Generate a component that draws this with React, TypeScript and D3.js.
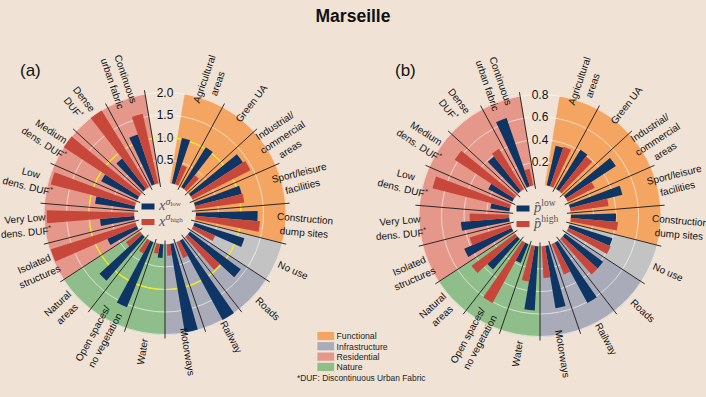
import React, { useEffect, useRef } from 'react';
import { select, scaleBand, scaleLinear, arc } from 'd3';

const categories: string[] = [
  'Agricultural\nareas', 'Green UA', 'Industrial/\ncommercial\nareas', 'Sport/leisure\nfacilities', 'Construction\ndump sites',
  'No use', 'Roads', 'Railway', 'Motorways',
  'Water', 'Open spaces/\nno vegetation', 'Natural\nareas',
  'Isolated\nstructures', 'Very Low\ndens. DUF*', 'Low\ndens. DUF*', 'Medium\ndens. DUF*', 'Dense\nDUF*', 'Continuous\nurban fabric',
];
const categoryGroups: string[] = [
  'Functional', 'Functional', 'Functional', 'Functional', 'Functional',
  'Infrastructure', 'Infrastructure', 'Infrastructure', 'Infrastructure',
  'Nature', 'Nature', 'Nature',
  'Residential', 'Residential', 'Residential', 'Residential', 'Residential', 'Residential',
];
const groupNames = ['Functional', 'Infrastructure', 'Residential', 'Nature'];

// (a) x^sigma, low / high
const xLow = [1.03, 1.04, 1.38, 1.07, 1.37, 1.16, 1.40, 2.0, 1.99, 0.30, 1.56, 1.29, 0.71, 0.76, 0.88, 0.90, 0.86, 1.17];
const xHigh = [0.45, 0.39, 1.44, 1.09, 1.43, 0.53, 0.97, 0.38, 0.25, 0.22, 0.32, 0.39, 1.97, 1.94, 1.93, 2.0, 2.0, 1.58];
const xTicks = [0.5, 1.0, 1.5, 2.0];

// (b) p-hat, low / high
const pLow = [0.36, 0.41, 0.53, 0.48, 0.40, 0.40, 0.42, 0.61, 0.56, 0.57, 0.18, 0.36, 0.46, 0.43, 0.17, 0.24, 0.39, 0.64];
const pHigh = [0.37, 0.39, 0.27, 0.34, 0.42, 0.41, 0.42, 0.29, 0.28, 0.32, 0.61, 0.48, 0.38, 0.35, 0.71, 0.63, 0.42, 0.15];
const pTicks = [0.2, 0.4, 0.6, 0.8];

const W = 706, H = 397;
const BG = '#f0e2d5';
const BLUE = '#0e3563';
const RED = '#c8473b';
const groupColor: Record<string, string> = {
  Functional: '#f3a561', Infrastructure: '#aaabb8', Residential: '#e5978a', Nature: '#8fbe8b',
};
const R0 = 31, R1 = 121;
const font = "'Liberation Sans', Arial, Helvetica, sans-serif";
const mathFont = "'Liberation Serif', 'DejaVu Serif', serif";

const drawPolar = (svg: any, o: any) => {
  const g = svg.append('g').attr('transform', `translate(${o.cx},${o.cy})`);
  const slots = ['', ...categories];
  const half = Math.PI / slots.length;
  const angle = scaleBand<string>().domain(slots).range([-half, 2 * Math.PI - half]);
  const bw = angle.bandwidth();
  const sub = scaleBand<string>().domain(['low', 'high']).range([0, bw]).paddingInner(0).paddingOuter(0.5);
  const radius = scaleLinear().domain([0, o.max]).range([R0, R1]);
  const arcGen = arc<any>();

  // sector backgrounds
  categories.forEach((c, i) => {
    const col = c === 'No use' ? '#c3c3c3' : groupColor[categoryGroups[i]];
    g.append('path')
      .attr('d', arcGen({ innerRadius: R0, outerRadius: R1, startAngle: angle(c)!, endAngle: angle(c)! + bw }))
      .attr('fill', col).attr('stroke', col).attr('stroke-width', 0.6);
  });

  // grid circles
  o.ticks.forEach((t: number) => {
    g.append('circle').attr('r', radius(t)).attr('fill', 'none')
      .attr('stroke', '#ffffff').attr('stroke-opacity', 0.75).attr('stroke-width', 0.8);
  });
  if (o.ring !== undefined) {
    g.append('circle').attr('r', radius(o.ring)).attr('fill', 'none')
      .attr('stroke', '#f2ec12').attr('stroke-width', 1.2);
  }

  // bars
  categories.forEach((c, i) => {
    [['low', o.low[i], BLUE], ['high', o.high[i], RED]].forEach(([k, v, col]: any) => {
      const a0 = angle(c)! + sub(k)!;
      g.append('path')
        .attr('d', arcGen({ innerRadius: R0, outerRadius: radius(v), startAngle: a0, endAngle: a0 + sub.bandwidth() }))
        .attr('fill', col);
    });
  });

  // separator lines at the end of each category
  categories.forEach((c) => {
    const a = angle(c)! + bw;
    g.append('line')
      .attr('x1', 27 * Math.sin(a)).attr('y1', -27 * Math.cos(a))
      .attr('x2', 125 * Math.sin(a)).attr('y2', -125 * Math.cos(a))
      .attr('stroke', '#1a1a1a').attr('stroke-width', 0.9);
  });

  // radial tick labels
  o.ticks.forEach((t: number) => {
    g.append('text').attr('x', 0).attr('y', -radius(t))
      .attr('text-anchor', 'middle').attr('dominant-baseline', 'central')
      .attr('font-family', font).attr('font-size', 12).attr('fill', '#111')
      .text(o.fmt(t));
  });

  // category labels
  categories.forEach((c) => {
    const a = angle(c)! + bw / 2;
    const deg = (a * 180) / Math.PI;
    const rot = deg <= 180 ? deg - 90 : deg - 270;
    const lg = g.append('g')
      .attr('transform', `translate(${140 * Math.sin(a)},${-140 * Math.cos(a)}) rotate(${rot})`);
    const lines = c.split('\n');
    lines.forEach((ln, j) => {
      const star = ln.endsWith('*');
      const t = lg.append('text')
        .attr('x', 0).attr('y', (j - (lines.length - 1) / 2) * 14)
        .attr('text-anchor', 'middle').attr('dominant-baseline', 'central')
        .attr('font-family', font).attr('font-size', 10).attr('fill', '#111');
      t.append('tspan').text(star ? ln.slice(0, -1) : ln);
      if (star) t.append('tspan').attr('font-size', 7).attr('dy', -3).text('*');
    });
  });

  // inner legend
  [[BLUE, -10, -3.5, o.sup[0]], [RED, 5.5, 12, o.sup[1]]].forEach(([col, ry, ty, s]: any) => {
    g.append('rect').attr('x', -23.5).attr('y', ry).attr('width', 13).attr('height', 6).attr('fill', col);
    const t = g.append('text').attr('x', -6).attr('y', ty).attr('font-family', mathFont).attr('fill', '#555');
    if (o.sym === 'x') {
      t.append('tspan').attr('font-style', 'italic').attr('font-size', 14.5).text('x');
      t.append('tspan').attr('font-style', 'italic').attr('font-size', 10).attr('dy', -5.5).text('σ');
      t.append('tspan').attr('font-size', 7).attr('dy', 1.5).text(s);
    } else {
      t.append('tspan').attr('font-style', 'italic').attr('font-size', 14.5).text('p\u0302');
      t.append('tspan').attr('font-size', 9.5).attr('dy', -6).text(s);
    }
  });

  svg.append('text').attr('x', o.labelX).attr('y', 76)
    .attr('font-family', font).attr('font-size', 17).attr('fill', '#111').text(o.label);
};

const App = () => {
  const ref = useRef<SVGSVGElement>(null);

  useEffect(() => {
    const svg = select(ref.current);
    svg.selectAll('*').remove();
    svg.append('rect').attr('width', W).attr('height', H).attr('fill', BG);

    svg.append('text').attr('x', 353).attr('y', 22).attr('text-anchor', 'middle')
      .attr('font-family', font).attr('font-weight', 'bold').attr('font-size', 17.5).attr('fill', '#111')
      .text('Marseille');

    drawPolar(svg, {
      cx: 165, cy: 213.5, low: xLow, high: xHigh, max: 2.0, ticks: xTicks,
      fmt: (t: number) => t.toFixed(1), ring: 1.0, sym: 'x', sup: ['low', 'high'], label: '(a)', labelX: 20,
    });
    drawPolar(svg, {
      cx: 540, cy: 215.5, low: pLow, high: pHigh, max: 0.8, ticks: pTicks,
      fmt: (t: number) => t.toFixed(1), sym: 'p', sup: ['low', 'high'], label: '(b)', labelX: 395,
    });

    // group legend
    const lg = svg.append('g').attr('transform', 'translate(317,331.5)');
    groupNames.forEach((gname, i) => {
      lg.append('rect').attr('x', 0).attr('y', i * 10.3).attr('width', 17.5).attr('height', 9)
        .attr('fill', groupColor[gname]).attr('stroke', '#f6efe6').attr('stroke-width', 0.6);
      lg.append('text').attr('x', 19.5).attr('y', i * 10.3 + 4.7).attr('dominant-baseline', 'central')
        .attr('font-family', font).attr('font-size', 8.7).attr('fill', '#222').text(gname);
    });
    svg.append('text').attr('x', 297).attr('y', 378).attr('dominant-baseline', 'central')
      .attr('font-family', font).attr('font-size', 8.4).attr('fill', '#222')
      .text('*DUF: Discontinuous Urban Fabric');
  }, []);

  return (
    <div style={{ position: 'absolute', left: 0, top: 0 }}>
      <svg ref={ref} width={W} height={H} style={{ display: 'block' }}></svg>
    </div>
  );
};

export default App;
